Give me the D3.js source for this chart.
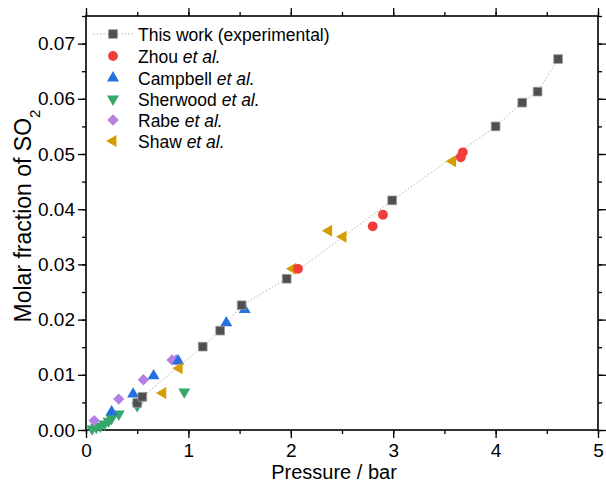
<!DOCTYPE html>
<html>
<head>
<meta charset="utf-8">
<script src="https://cdn.jsdelivr.net/npm/d3@7"></script>
<style>
  body { margin: 0; background: #fff; }
  svg { font-family: "Liberation Sans", Arial, sans-serif; }
  .axis path, .axis line { stroke: #000; }
  .axis text { fill: #000; }
</style>
</head>
<body>
<svg id="chart" width="606" height="491"></svg>
<script>
// ---- data (pressure in bar, molar fraction of SO2) ----
var thisP   = [0.50, 0.55, 1.14, 1.31, 1.52, 1.96, 2.99, 4.00, 4.26, 4.41, 4.61];
var thisX   = [0.0049, 0.0060, 0.0151, 0.0180, 0.0226, 0.0274, 0.0416, 0.0550, 0.0593, 0.0613, 0.0672];

var zhouP   = [2.07, 2.80, 2.90, 3.66, 3.68];
var zhouX   = [0.0292, 0.0369, 0.0390, 0.0494, 0.0503];

var campP   = [0.25, 0.46, 0.66, 0.90, 1.37, 1.55];
var campX   = [0.0033, 0.0065, 0.0098, 0.0125, 0.0194, 0.0218];

var sherP   = [0.06, 0.10, 0.14, 0.18, 0.22, 0.25, 0.32, 0.50, 0.96];
var sherX   = [0.0002, 0.0005, 0.0007, 0.0011, 0.0016, 0.0021, 0.0029, 0.0044, 0.0069];

var rabeP   = [0.08, 0.32, 0.56, 0.84, 0.88];
var rabeX   = [0.0017, 0.0056, 0.0091, 0.0127, 0.0127];

var shawP   = [0.75, 0.91, 2.02, 2.37, 2.51, 3.58];
var shawX   = [0.0067, 0.0112, 0.0292, 0.0361, 0.0350, 0.0487];

var xTicks = [0, 1, 2, 3, 4, 5];
var yTicks = [0, 0.01, 0.02, 0.03, 0.04, 0.05, 0.06, 0.07];

var svg = d3.select("#chart");
var margin = {top: 16, right: 8, bottom: 61, left: 86};
var W = +svg.attr("width"), H = +svg.attr("height");

var x = d3.scaleLinear().domain([0, 5]).range([margin.left, W - margin.right]);
var y = d3.scaleLinear().domain([0, 0.075]).range([H - margin.bottom, margin.top]);

var x0 = x.range()[0], x1 = x.range()[1], y0 = y.range()[0], y1 = y.range()[1];

// minor ticks
var xMinor = d3.range(0, 5.01, 0.5);
var yMinor = d3.range(0, 0.0751, 0.005);

function minor(axis) { return axis.tickSize(4).tickSizeOuter(0).tickFormat(""); }

svg.append("g").attr("class", "axis").attr("transform", "translate(0," + y0 + ")")
  .call(minor(d3.axisBottom(x).tickValues(xMinor)));
svg.append("g").attr("class", "axis").attr("transform", "translate(0," + y1 + ")")
  .call(minor(d3.axisTop(x).tickValues(xMinor)));
svg.append("g").attr("class", "axis").attr("transform", "translate(" + x0 + ",0)")
  .call(minor(d3.axisLeft(y).tickValues(yMinor)));
svg.append("g").attr("class", "axis").attr("transform", "translate(" + x1 + ",0)")
  .call(minor(d3.axisRight(y).tickValues(yMinor)));

// major ticks with labels
var gx = svg.append("g").attr("class", "axis").attr("transform", "translate(0," + y0 + ")")
  .call(d3.axisBottom(x).tickValues(xTicks).tickSize(8).tickSizeOuter(0).tickPadding(6)
    .tickFormat(d3.format("d")));
gx.selectAll("text").style("font-size", "19px");

var gy = svg.append("g").attr("class", "axis").attr("transform", "translate(" + x0 + ",0)")
  .call(d3.axisLeft(y).tickValues(yTicks).tickSize(8).tickSizeOuter(0).tickPadding(3)
    .tickFormat(d3.format(".2f")));
gy.selectAll("text").style("font-size", "19px");

svg.append("g").attr("class", "axis").attr("transform", "translate(0," + y1 + ")")
  .call(d3.axisTop(x).tickValues(xTicks).tickSize(8).tickSizeOuter(0).tickFormat(""));
svg.append("g").attr("class", "axis").attr("transform", "translate(" + x1 + ",0)")
  .call(d3.axisRight(y).tickValues(yTicks).tickSize(8).tickSizeOuter(0).tickFormat(""));

svg.selectAll(".axis path.domain").remove();
svg.selectAll(".axis line").attr("stroke-width", 1.3);

// frame
svg.append("rect")
  .attr("x", x0).attr("y", y1).attr("width", x1 - x0).attr("height", y0 - y1)
  .attr("fill", "none").attr("stroke", "#000").attr("stroke-width", 1.6);

// axis titles
svg.append("text")
  .attr("x", 334).attr("y", 479)
  .attr("text-anchor", "middle").style("font-size", "20px")
  .text("Pressure / bar");

var yt = svg.append("text")
  .attr("transform", "translate(31,216) rotate(-90)")
  .attr("text-anchor", "middle").style("font-size", "23px");
yt.append("tspan").text("Molar fraction of SO");
yt.append("tspan").attr("baseline-shift", "sub").style("font-size", "15px").text("2");

// ---- series ----
var series = [
  {name: "This work (experimental)", it: "", P: thisP, X: thisX, sym: d3.symbolSquare, size: 76, rot: 0, fill: "#4f4f4f", stroke: "#999"},
  {name: "Zhou ", it: "et al.", P: zhouP, X: zhouX, sym: d3.symbolCircle, size: 76, rot: 0, fill: "#f23d3d", stroke: "none"},
  {name: "Campbell ", it: "et al.", P: campP, X: campX, sym: d3.symbolTriangle, size: 62, rot: 0, fill: "#2470e0", stroke: "none"},
  {name: "Sherwood ", it: "et al.", P: sherP, X: sherX, sym: d3.symbolTriangle, size: 62, rot: 180, fill: "#35a869", stroke: "none"},
  {name: "Rabe ", it: "et al.", P: rabeP, X: rabeX, sym: d3.symbolSquare, size: 64, rot: 45, fill: "#b57fe3", stroke: "none"},
  {name: "Shaw ", it: "et al.", P: shawP, X: shawX, sym: d3.symbolTriangle, size: 62, rot: -90, fill: "#d69c00", stroke: "none"}
];

// dotted guide through own data
var line = d3.line().x(function(d) { return x(d[0]); }).y(function(d) { return y(d[1]); });
svg.append("path")
  .datum(d3.zip(thisP, thisX))
  .attr("d", line)
  .attr("fill", "none").attr("stroke", "#b5b5b5").attr("stroke-width", 1)
  .attr("stroke-dasharray", "1.5,2");

var order = [3, 4, 2, 5, 1, 0];
order.forEach(function(i) {
  var s = series[i];
  svg.append("g").selectAll("path")
    .data(d3.zip(s.P, s.X))
    .enter().append("path")
    .attr("d", d3.symbol().type(s.sym).size(s.size))
    .attr("transform", function(d) {
      return "translate(" + x(d[0]) + "," + y(d[1]) + ") rotate(" + s.rot + ")";
    })
    .attr("fill", s.fill)
    .attr("stroke", s.stroke)
    .attr("stroke-width", 0.8);
});

// ---- legend ----
var legend = svg.append("g");
var rowY = [34, 56, 78, 99, 120, 141];
series.forEach(function(s, i) {
  var g = legend.append("g").attr("transform", "translate(0," + rowY[i] + ")");
  if (i == 0) {
    g.append("line").attr("x1", 93).attr("x2", 133).attr("y1", 0).attr("y2", 0)
      .attr("stroke", "#b5b5b5").attr("stroke-width", 1).attr("stroke-dasharray", "1.5,2");
  }
  g.append("path")
    .attr("d", d3.symbol().type(s.sym).size(s.size))
    .attr("transform", "translate(113,0) rotate(" + s.rot + ")")
    .attr("fill", s.fill).attr("stroke", s.stroke).attr("stroke-width", 0.8);
  var t = g.append("text").attr("x", 138).attr("y", 6.5).style("font-size", "17.5px");
  t.append("tspan").text(s.name);
  if (s.it) t.append("tspan").style("font-style", "italic").text(s.it);
});
</script>
</body>
</html>
